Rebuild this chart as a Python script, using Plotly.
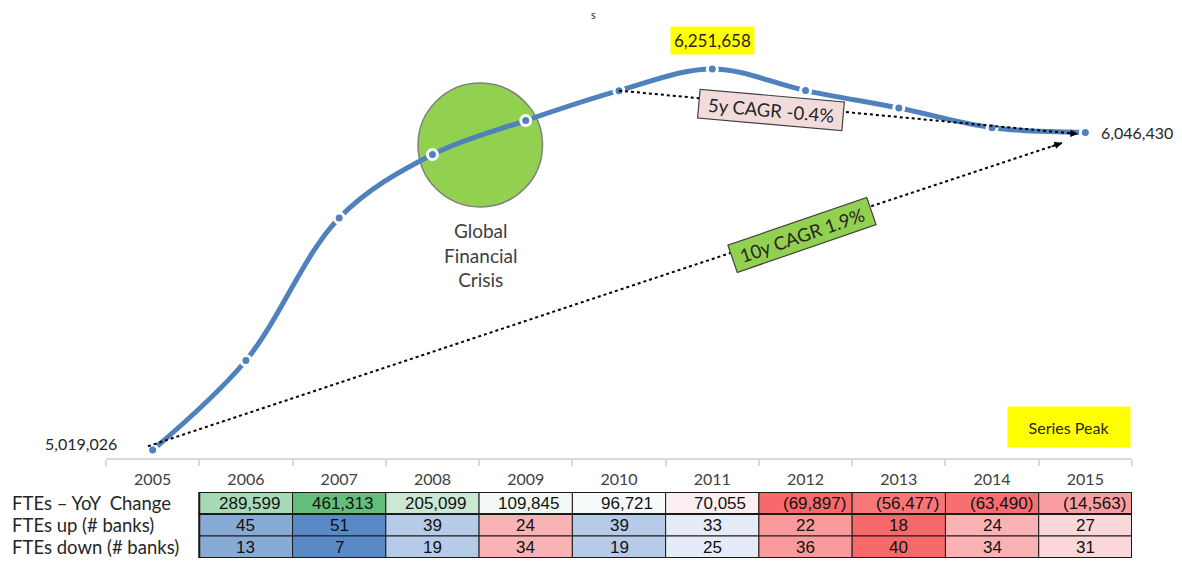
import plotly.graph_objects as go

# ---------------------- Data ----------------------
years = [2005, 2006, 2007, 2008, 2009, 2010, 2011, 2012, 2013, 2014, 2015]
ftes = [5019026, 5308625, 5769938, 5975037, 6084882, 6181603, 6251658,
        6181761, 6125284, 6061794, 6046430]

table_years = years[1:]
yoy_change = [289599, 461313, 205099, 109845, 96721, 70055, -69897, -56477, -63490, -14563]
banks_up = [45, 51, 39, 24, 39, 33, 22, 18, 24, 27]
banks_down = [13, 7, 19, 34, 19, 25, 36, 40, 34, 31]
row_labels = ['FTEs \u2013 YoY  Change', 'FTEs up (# banks)', 'FTEs down (# banks)']

# cell fills (conditional formatting as seen in the picture)
yoy_colors = ['#A9DAB7', '#63BE7B', '#CBE8D4', '#F1F8F6', '#F7FAFA',
              '#FCEFF2', '#F8696B', '#F87678', '#F86F71', '#F99EA0']
up_colors = ['#88ABD6', '#5A8AC6', '#B6CBE7', '#FAB3B5', '#B6CBE7',
             '#E5ECF7', '#F99A9C', '#F8696B', '#FAB3B5', '#FBD7DA']
down_colors = ['#88ABD6', '#5A8AC6', '#B6CBE7', '#FAB3B5', '#B6CBE7',
               '#E5ECF7', '#F99A9C', '#F8696B', '#FAB3B5', '#FBD7DA']

BLUE = '#4F81BD'
TXT = '#262626'
LABEL_FONT = 'Lato'
CELL_FONT = 'Liberation Sans'

# pixel frame of the plot area (used only for paper-placed labels)
PLOT_L, PLOT_W, PLOT_B, PLOT_H = 106, 1026, 558, 533


def px_x(x):
    return (x - PLOT_L) / PLOT_W


def px_y(y):
    return (PLOT_B - y) / PLOT_H


fig = go.Figure()

# main series
fig.add_trace(go.Scatter(
    x=years, y=ftes, mode='lines+markers',
    line=dict(color=BLUE, width=5, shape='spline', smoothing=1.0),
    marker=dict(size=10, color=BLUE, line=dict(color='white', width=3)),
    hoverinfo='x+y', showlegend=False, cliponaxis=False))

# CAGR guide lines (dotted)
fig.add_trace(go.Scatter(
    x=[years[0] - 0.05, years[-1] - 0.25], y=[ftes[0] + 12000, ftes[-1] - 34000],
    mode='lines', line=dict(color='black', width=2, dash='dot'),
    hoverinfo='skip', showlegend=False, cliponaxis=False))
fig.add_trace(go.Scatter(
    x=[years[5], years[-1] - 0.08], y=[ftes[5], ftes[-1] - 5000],
    mode='lines', line=dict(color='black', width=2, dash='dot'),
    hoverinfo='skip', showlegend=False, cliponaxis=False))

# invisible trace so the table axis exists
fig.add_trace(go.Scatter(x=table_years, y=[0.5] * len(table_years), xaxis='x', yaxis='y2',
                         mode='markers', marker=dict(opacity=0), hoverinfo='skip',
                         showlegend=False))

shapes = []
annotations = []

# Global Financial Crisis bubble
shapes.append(dict(type='circle', xref='x', yref='y', layer='below',
                   x0=2007.845, x1=2009.18, y0=5805131, y1=6206271,
                   fillcolor='#92D050', line=dict(color='#7F7F7F', width=1.5)))
annotations.append(dict(x=2008.51, y=5650000, xref='x', yref='y', showarrow=False,
                        text='Global<br>Financial<br>Crisis', align='center',
                        font=dict(family=LABEL_FONT, size=19, color='#404040')))

# arrowheads at ends of CAGR lines
annotations.append(dict(x=years[-1] - 0.25, y=ftes[-1] - 34000, xref='x', yref='y',
                        ax=-12, ay=4, showarrow=True, arrowhead=2, arrowsize=1,
                        arrowwidth=1.5, arrowcolor='black', text=''))
annotations.append(dict(x=years[-1] - 0.08, y=ftes[-1] - 5000, xref='x', yref='y',
                        ax=-12, ay=-1, showarrow=True, arrowhead=2, arrowsize=1,
                        arrowwidth=1.5, arrowcolor='black', text=''))

# CAGR labels
annotations.append(dict(x=2011.63, y=6120000, xref='x', yref='y', showarrow=False,
                        text='5y CAGR -0.4%', textangle=5, width=138, height=22,
                        bgcolor='#F2DCDB', bordercolor='#404040', borderwidth=1.2, borderpad=3,
                        font=dict(family=LABEL_FONT, size=18.5, color=TXT)))
annotations.append(dict(x=2011.96, y=5714551, xref='x', yref='y', showarrow=False,
                        text='10y CAGR 1.9%', textangle=-19, width=140, height=22,
                        bgcolor='#92D050', bordercolor='#404040', borderwidth=1.2, borderpad=3,
                        font=dict(family=LABEL_FONT, size=18.5, color=TXT)))

# value labels
peak = max(ftes)
peak_year = years[ftes.index(peak)]
annotations.append(dict(x=peak_year, y=peak, xref='x', yref='y', showarrow=False,
                        text=f'{peak:,}', yshift=28, bgcolor='#FFFF00', borderpad=3,
                        font=dict(family=LABEL_FONT, size=17, color=TXT)))
annotations.append(dict(x=years[0], y=ftes[0], xref='x', yref='y', showarrow=False,
                        text=f'{ftes[0]:,}', xanchor='right', xshift=-34, yshift=7,
                        font=dict(family=LABEL_FONT, size=16, color=TXT)))
annotations.append(dict(x=years[-1], y=ftes[-1], xref='x', yref='y', showarrow=False,
                        text=f'{ftes[-1]:,}', xanchor='left', xshift=14,
                        font=dict(family=LABEL_FONT, size=16, color=TXT)))
annotations.append(dict(x=px_x(1069), y=px_y(426.5), xref='paper', yref='paper',
                        xanchor='center', yanchor='middle', showarrow=False,
                        text='Series Peak', bgcolor='#FFFF00', width=100, height=18, borderpad=11,
                        font=dict(family=LABEL_FONT, size=16, color=TXT)))

# tiny leftover title
annotations.append(dict(x=px_x(593), y=px_y(15), xref='paper', yref='paper',
                        xanchor='center', yanchor='middle', showarrow=False,
                        text='s', font=dict(family=LABEL_FONT, size=11, color=TXT)))

# ---------------------- Table ----------------------
rows = [(yoy_change, yoy_colors), (banks_up, up_colors), (banks_down, down_colors)]
for r, (vals, cols) in enumerate(rows):
    for yr, v, c in zip(table_years, vals, cols):
        shapes.append(dict(type='rect', xref='x', yref='y2', x0=yr - 0.5, x1=yr + 0.5,
                           y0=r, y1=r + 1, fillcolor=c, line=dict(color='#1A1A1A', width=1)))
        if r == 0:
            txt = f'{v:,}' if v >= 0 else f'({-v:,})'
            annotations.append(dict(x=yr + 0.5, y=r + 0.5, xref='x', yref='y2', showarrow=False,
                                    text=txt, xanchor='right', xshift=-11 if v >= 0 else -4,
                                    font=dict(family=CELL_FONT, size=17, color='#111')))
        else:
            annotations.append(dict(x=yr, y=r + 0.5, xref='x', yref='y2', showarrow=False,
                                    text=str(v), font=dict(family=CELL_FONT, size=17, color='#111')))
    annotations.append(dict(x=px_x(10), y=r + 0.5, xref='paper', yref='y2',
                            showarrow=False, text=row_labels[r], xanchor='left',
                            font=dict(family=LABEL_FONT, size=18.5, color=TXT)))

# heavier outlines around the row groups
shapes.append(dict(type='rect', xref='x', yref='y2', x0=table_years[0] - 0.5,
                   x1=table_years[-1] + 0.5, y0=0, y1=1, line=dict(color='#1A1A1A', width=2)))
shapes.append(dict(type='rect', xref='x', yref='y2', x0=table_years[0] - 0.5,
                   x1=table_years[-1] + 0.5, y0=1, y1=3, line=dict(color='#1A1A1A', width=2)))

fig.update_layout(
    width=1182, height=563,
    margin=dict(l=106, r=50, t=25, b=5),
    paper_bgcolor='white', plot_bgcolor='white',
    xaxis=dict(range=[2004.5, 2015.5], tickvals=years, ticktext=[str(y) for y in years],
               ticks='', showline=True, linecolor='#D9D9D9', linewidth=1.5,
               showgrid=False, zeroline=False, anchor='y', ticklabelstandoff=6,
               minor=dict(tick0=2004.5, dtick=1, ticks='outside', ticklen=6,
                          tickcolor='#D9D9D9', tickwidth=1.5, showgrid=False),
               tickfont=dict(family=LABEL_FONT, size=16, color='#404040')),
    yaxis=dict(domain=[px_y(458), 1], range=[4993146, 6393901], visible=False),
    yaxis2=dict(domain=[0, px_y(492)], range=[3, 0], visible=False, anchor='x'),
    shapes=shapes, annotations=annotations,
)

fig.write_html('out.html', config={'displayModeBar': False},
               post_script="document.body.style.margin='0';")
